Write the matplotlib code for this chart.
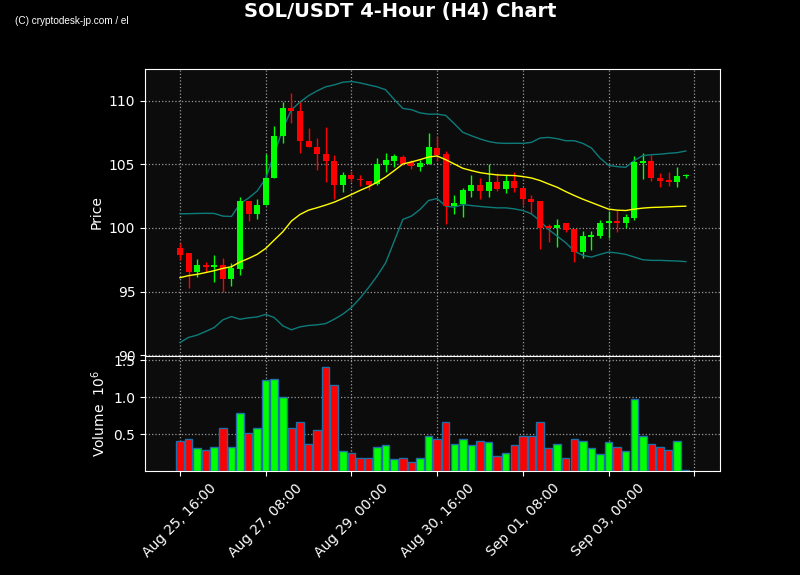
import matplotlib
matplotlib.use("Agg")
import matplotlib.pyplot as plt
import matplotlib.dates as mdates
import numpy as np
import pandas as pd

# 4h candles, SOL/USDT
times = pd.date_range("2024-08-25 16:00", periods=60, freq="4h")

opens = [98.42, 98.0, 96.56, 97.06, 96.9, 97.06, 95.95, 96.77, 102.08, 101.08,
         101.79, 103.9, 107.2, 109.45, 109.2, 106.86, 106.39, 105.84, 105.3, 103.36,
         104.2, 103.88, 103.72, 103.49, 104.98, 105.3, 105.6, 105.19, 104.8, 105.06,
         106.31, 105.84, 101.71, 101.92, 102.94, 103.41, 102.89, 103.65, 103.05, 103.73,
         103.15, 102.31, 102.08, 100.12, 99.99, 100.35, 99.88, 98.1, 99.25, 99.36,
         100.41, 100.54, 100.38, 100.75, 105.14, 105.3, 103.96, 103.75, 103.62, 104.12]
closes = [97.87, 96.56, 97.06, 96.9, 97.06, 95.95, 96.82, 102.08, 101.08, 101.84,
          103.93, 107.25, 109.45, 109.16, 106.81, 106.34, 105.82, 105.24, 103.36, 104.2,
          103.83, 103.75, 103.41, 105.06, 105.37, 105.63, 105.03, 104.85, 105.14, 106.34,
          105.76, 101.71, 102.0, 103.02, 103.41, 102.89, 103.65, 103.05, 103.73, 103.12,
          102.26, 102.03, 100.01, 100.01, 100.27, 99.86, 98.1, 99.33, 99.41, 100.41,
          100.54, 100.38, 100.85, 105.22, 105.3, 103.91, 103.67, 103.6, 104.12, 104.14]
highs = [98.78, 98.05, 97.58, 97.35, 97.9, 97.6, 97.24, 102.47, 102.08, 102.29,
         105.84, 107.99, 109.9, 110.6, 109.95, 107.86, 107.07, 107.93, 105.76, 104.4,
         104.5, 104.2, 103.72, 105.5, 105.9, 105.84, 105.76, 105.37, 105.37, 107.46,
         107.15, 106.03, 102.58, 103.15, 104.2, 103.93, 105.03, 104.33, 104.2, 104.41,
         103.15, 102.58, 102.08, 100.33, 100.72, 100.41, 99.88, 99.75, 99.78, 100.6,
         101.32, 101.42, 101.11, 105.66, 105.9, 105.71, 104.33, 104.38, 104.77, 104.27]
lows = [97.48, 95.31, 96.17, 96.56, 95.78, 94.95, 95.46, 96.33, 100.51, 100.72,
        101.79, 103.9, 106.7, 108.25, 105.9, 106.34, 104.59, 103.62, 102.29, 102.84,
        103.62, 103.33, 103.02, 103.36, 104.4, 104.8, 104.98, 104.67, 104.46, 105.06,
        105.24, 100.33, 101.1, 100.88, 102.45, 102.24, 102.45, 102.89, 102.73, 102.84,
        101.84, 101.1, 98.31, 98.93, 98.52, 99.7, 97.35, 97.66, 98.24, 99.23,
        99.18, 99.7, 99.96, 100.62, 103.88, 103.7, 103.23, 103.31, 103.2, 103.93]
# volume in millions
volumes = [0.40, 0.44, 0.31, 0.28, 0.33, 0.58, 0.33, 0.78, 0.52, 0.58,
           1.23, 1.25, 1.00, 0.58, 0.67, 0.37, 0.55, 1.41, 1.16, 0.27,
           0.24, 0.18, 0.17, 0.32, 0.35, 0.16, 0.17, 0.12, 0.18, 0.48,
           0.44, 0.67, 0.37, 0.43, 0.35, 0.41, 0.39, 0.20, 0.25, 0.35,
           0.47, 0.47, 0.66, 0.31, 0.37, 0.18, 0.43, 0.40, 0.31, 0.23,
           0.39, 0.33, 0.27, 0.98, 0.48, 0.36, 0.32, 0.29, 0.41, 0.01]
# bollinger bands as drawn
bb_mid = [96.09, 96.25, 96.35, 96.49, 96.64, 96.82, 96.95, 97.32, 97.6, 97.92,
          98.39, 99.05, 99.7, 100.54, 101.06, 101.4, 101.59, 101.8, 102.03, 102.32,
          102.63, 102.95, 103.24, 103.6, 104.01, 104.51, 105.03, 105.19, 105.37, 105.58,
          105.66, 105.37, 105.03, 104.69, 104.51, 104.35, 104.25, 104.17, 104.14, 104.12,
          104.04, 103.93, 103.73, 103.46, 103.2, 102.86, 102.55, 102.26, 102.0, 101.74,
          101.48, 101.4, 101.37, 101.48, 101.56, 101.61, 101.63, 101.66, 101.69, 101.71]
bb_upper = [101.11, 101.12, 101.14, 101.15, 101.14, 100.93, 100.9, 101.9, 102.35, 102.9,
            103.9, 105.8, 107.8, 109.3, 109.9, 110.4, 110.78, 111.1, 111.25, 111.46,
            111.52, 111.41, 111.25, 111.1, 110.86, 110.1, 109.4, 109.3, 109.05, 108.95,
            108.95, 108.85, 108.2, 107.52, 107.25, 107.0, 106.8, 106.68, 106.65, 106.66,
            106.65, 106.73, 107.07, 107.12, 107.02, 106.86, 106.86, 106.65, 106.29, 105.5,
            104.93, 104.82, 104.77, 105.3, 105.69, 105.76, 105.8, 105.87, 105.92, 106.05]
bb_lower = [90.99, 91.39, 91.57, 91.86, 92.17, 92.77, 93.03, 92.82, 92.93, 93.0,
            93.2, 92.95, 92.3, 91.99, 92.22, 92.33, 92.38, 92.48, 92.82, 93.22,
            93.74, 94.47, 95.31, 96.22, 97.27, 98.97, 100.67, 100.93, 101.45, 102.16,
            102.31, 101.71, 101.63, 101.84, 101.76, 101.69, 101.63, 101.58, 101.58, 101.5,
            101.37, 101.11, 100.54, 99.88, 99.36, 98.84, 98.18, 97.84, 97.71, 97.92,
            98.1, 98.03, 97.92, 97.71, 97.5, 97.45, 97.45, 97.42, 97.4, 97.35]

x = mdates.date2num(times.to_pydatetime())
o = np.array(opens); c = np.array(closes)
colors = np.where(c >= o, "#00ff00", "#ff0000")
step = 4 / 24

fig = plt.figure(figsize=(8, 5.75), dpi=100, facecolor="black")
ax1 = fig.add_axes([0.18125, 0.3809, 0.71875, 0.4991])
ax2 = fig.add_axes([0.18125, 0.1809, 0.71875, 0.2], sharex=ax1)

for ax in (ax1, ax2):
    ax.set_facecolor("#0c0c0c")
    for s in ax.spines.values():
        s.set_color("white")
    ax.tick_params(colors="white", labelsize=10)
    ax.grid(True, color="#9a9a9a", linestyle=":", linewidth=0.9)
    ax.set_axisbelow(True)

# candles
ax1.vlines(x, lows, highs, colors=colors, linewidth=1, zorder=2)
body = np.maximum(np.abs(c - o), 0.06)
ax1.bar(x, body, bottom=np.minimum(o, c), width=step * 0.7, color=colors, zorder=3)
ax1.plot(x, bb_upper, color="#0e7b7b", linewidth=1, zorder=2)
ax1.plot(x, bb_lower, color="#0e7b7b", linewidth=1, zorder=2)
ax1.plot(x, bb_mid, color="#ffff00", linewidth=1, zorder=4)
ax1.set_ylim(89.93, 112.5)
ax1.set_yticks([90, 95, 100, 105, 110])
ax1.set_ylabel("Price", color="white", fontsize=10)
ax1.tick_params(axis="x", labelbottom=False)

# volume
ax2.bar(x, volumes, width=step * 0.88, color=colors, edgecolor="#1f6fa8", linewidth=1, zorder=3)
ax2.set_ylim(0, 1.56)
ax2.set_yticks([0.5, 1.0, 1.5])
ax2.set_ylabel("Volume  $10^{6}$", color="white", fontsize=10)

ticks = x[0] + np.arange(0, 61, 10) * step
labels = [mdates.num2date(t).strftime("%b %d, %H:%M") for t in ticks[:-1]] + [""]
ax2.set_xticks(ticks)
ax2.set_xticklabels(labels, rotation=45)
ax2.set_xlim(x[0] - 4.08 * step, x[0] + 63.0 * step)

fig.text(0.5, 1 - 11 / 575, "SOL/USDT 4-Hour (H4) Chart", color="white",
         fontsize=14, fontweight="bold", ha="center", va="center")
fig.text(15 / 800, 1 - 21 / 575, "(C) cryptodesk-jp.com / el", color="white",
         fontsize=7.2, family="Liberation Sans", va="center")

fig.savefig("out.png", dpi=100, facecolor="black")
